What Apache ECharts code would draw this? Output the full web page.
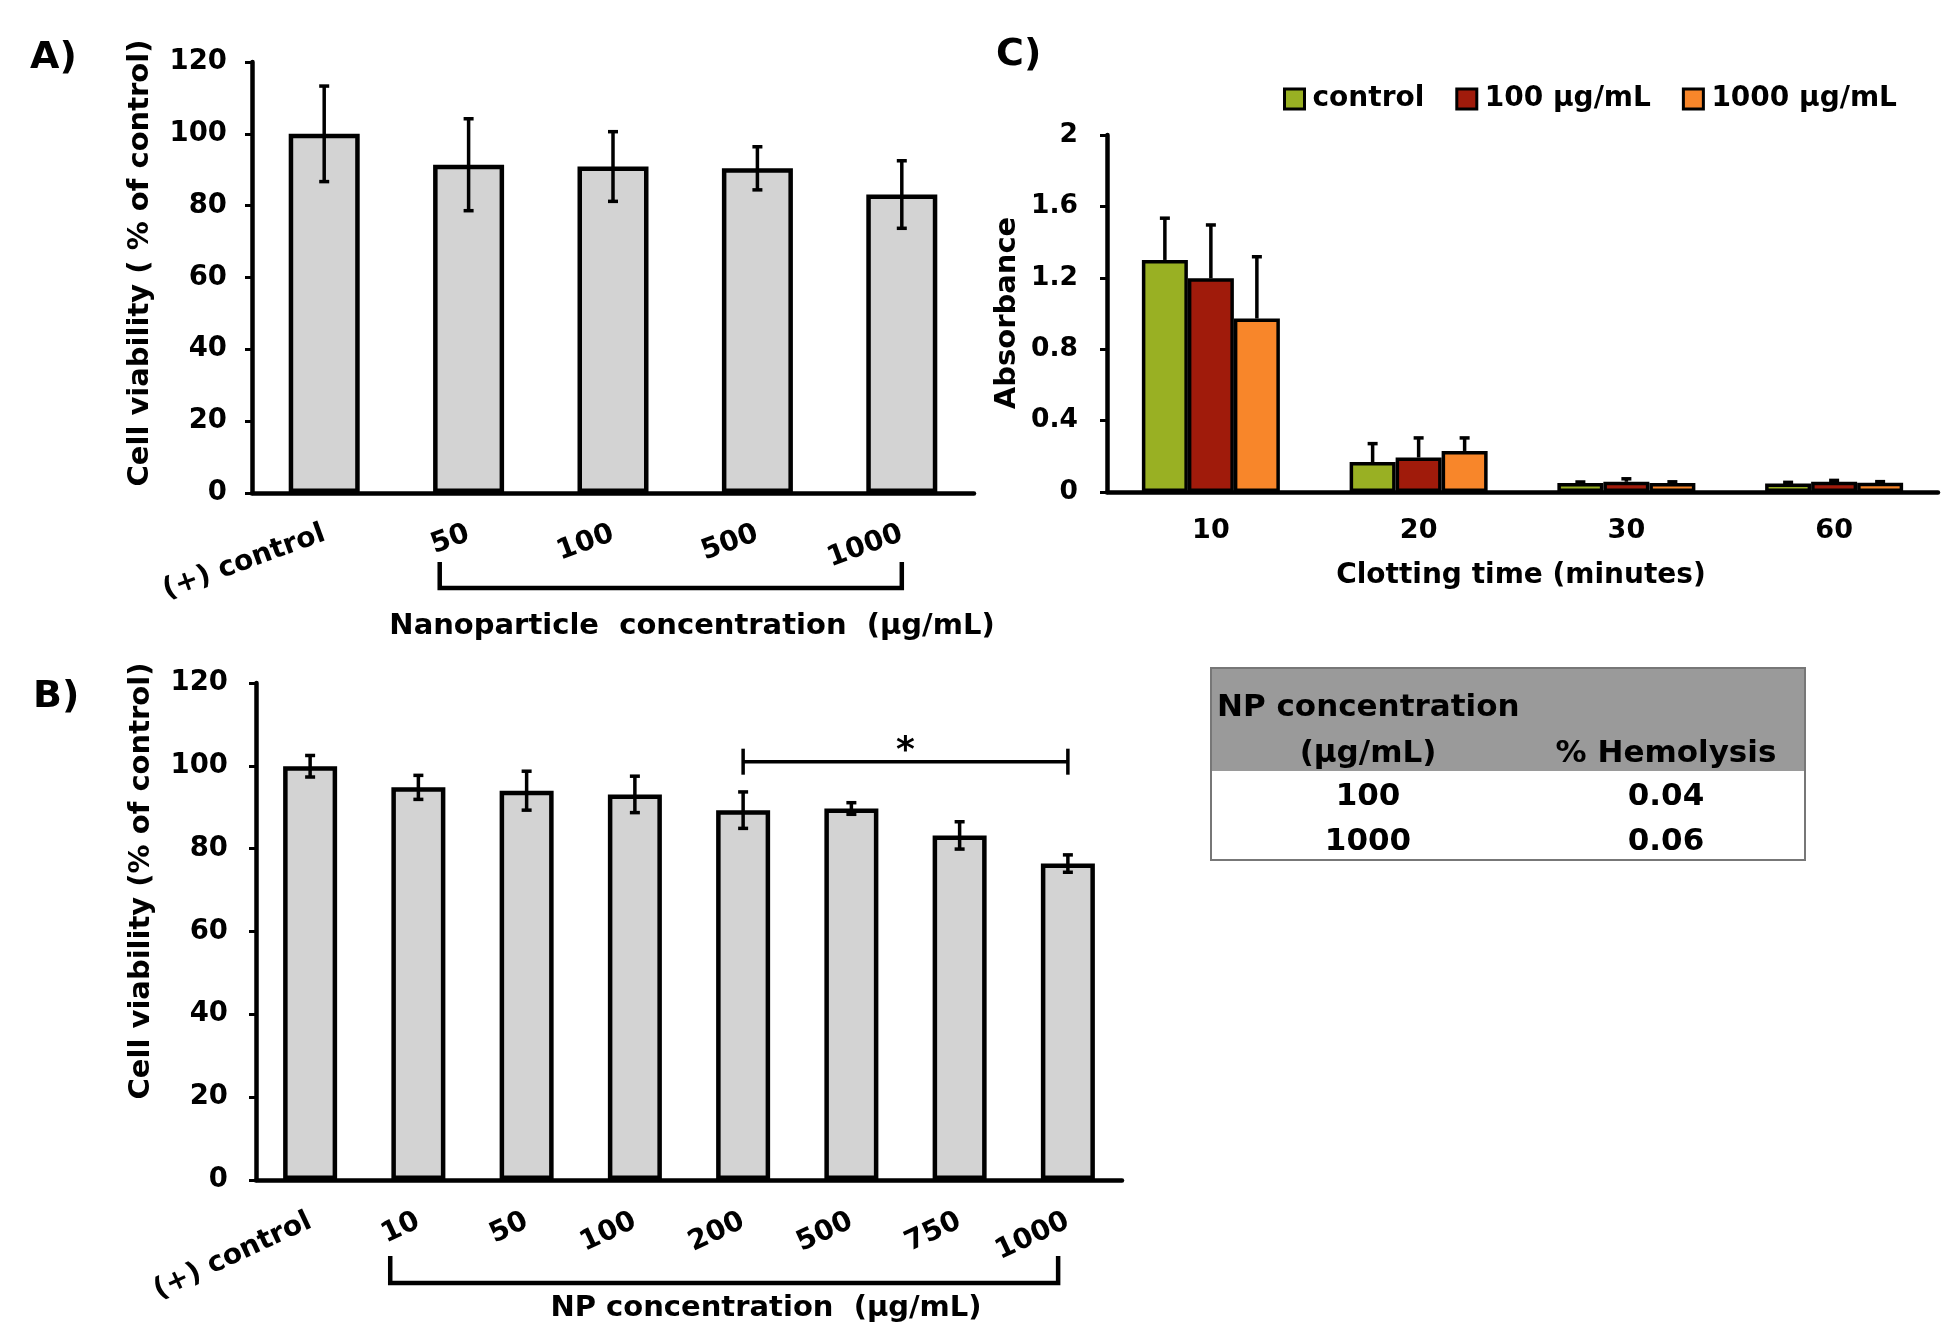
<!DOCTYPE html>
<html>
<head>
<meta charset="utf-8">
<script src="https://cdn.jsdelivr.net/npm/echarts/dist/echarts.min.js"></script>
<style>
html,body{margin:0;padding:0;background:#fff;}
#chart{width:1950px;height:1342px;}
</style>
</head>
<body>
<div id="chart"></div>
<script>
// ---------- DATA ----------
const catA = ['(+) control', '50', '100', '500', '1000'];
const valA = [100, 91.4, 90.9, 90.4, 83.1];
const errA = [13.3, 12.8, 9.7, 6.0, 9.4];

const catB = ['(+) control', '10', '50', '100', '200', '500', '750', '1000'];
const valB = [99.9, 94.8, 94.0, 93.1, 89.3, 89.7, 83.2, 76.4];
const errB = [2.6, 2.9, 4.7, 4.4, 4.4, 1.4, 3.3, 2.1];
const sigB = ['200', '1000'];
const sigLevelB = 101;

const catC = ['10', '20', '30', '60'];
const namesC = ['control', '100 μg/mL', '1000 μg/mL'];
const valCcontrol = [1.30, 0.168, 0.050, 0.048];
const valC100 = [1.197, 0.193, 0.057, 0.057];
const valC1000 = [0.972, 0.230, 0.051, 0.052];
const errCcontrol = [0.234, 0.103, 0.006, 0.006];
const errC100 = [0.299, 0.110, 0.017, 0.008];
const errC1000 = [0.346, 0.073, 0.006, 0.006];

const yTicksAB = [0, 120, 20];   // min, max, interval
const yTicksC = [0, 2, 0.4];

const hemoHeader = ['NP concentration', '(μg/mL)', '% Hemolysis'];
const hemoConc = ['100', '1000'];
const hemoPct = ['0.04', '0.06'];

// ---------- STYLE ----------
const FF = 'DejaVu Sans';
const BLACK = '#000';
const colorsC = ['#99b023', '#a01b0b', '#f8862a'];
const f = (s) => 'bold ' + s + 'px "' + FF + '"';

function catAxis(gi, data, extra) {
  return Object.assign({
    gridIndex: gi, type: 'category', data: data,
    axisLine: {lineStyle: {color: BLACK, width: 4.5}},
    axisTick: {alignWithLabel: true, length: 7, lineStyle: {color: BLACK, width: 3}},
    axisLabel: {interval: 0, fontSize: 28, fontWeight: 'bold', color: BLACK, fontFamily: FF},
    splitLine: {show: false}
  }, extra);
}
function valAxis(gi, t, labelSize, margin) {
  return {
    gridIndex: gi, type: 'value', min: t[0], max: t[1], interval: t[2],
    axisLine: {show: true, lineStyle: {color: BLACK, width: 4.5}},
    axisTick: {show: true, length: 7, lineStyle: {color: BLACK, width: 3}},
    axisLabel: {margin: margin, fontSize: labelSize, fontWeight: 'bold', color: BLACK, fontFamily: FF},
    splitLine: {show: false}
  };
}

function errRender(upperOnly, offset) {
  return function (params, api) {
    const i = api.value(0), v = api.value(1), e = api.value(2);
    const top = api.coord([i, v + e]);
    const bot = upperOnly ? api.coord([i, v]) : api.coord([i, v - e]);
    const x = top[0] + offset;
    const st = {stroke: BLACK, lineWidth: 3.5};
    const ch = [
      {type: 'line', shape: {x1: x, y1: top[1], x2: x, y2: bot[1]}, style: st},
      {type: 'line', shape: {x1: x - 5, y1: top[1], x2: x + 5, y2: top[1]}, style: st}
    ];
    if (!upperOnly) ch.push({type: 'line', shape: {x1: x - 5, y1: bot[1], x2: x + 5, y2: bot[1]}, style: st});
    return {type: 'group', children: ch};
  };
}
function errData(vals, errs) { return vals.map((v, i) => [i, v, errs[i]]); }

function bracketRender(shiftL, shiftR, drop, rise) {
  return function (params, api) {
    const p0 = api.coord([api.value(0), 0]);
    const p1 = api.coord([api.value(1), 0]);
    const band = api.size([1, 0])[0];
    const xL = p0[0] + shiftL * band, xR = p1[0] + shiftR * band;
    const y = p0[1] + drop;
    return {type: 'group', children: [
      {type: 'polyline', shape: {points: [[xL, y - rise], [xL, y], [xR, y], [xR, y - rise]]}, style: {fill: 'none', stroke: BLACK, lineWidth: 4.5}}
    ]};
  };
}

function sigRender(params, api) {
  const pL = api.coord([api.value(0), api.value(2)]);
  const pR = api.coord([api.value(1), api.value(2)]);
  const y = pL[1];
  const st = {stroke: BLACK, lineWidth: 3.5};
  return {type: 'group', children: [
    {type: 'line', shape: {x1: pL[0], y1: y, x2: pR[0], y2: y}, style: st},
    {type: 'line', shape: {x1: pL[0], y1: y - 13, x2: pL[0], y2: y + 13}, style: st},
    {type: 'line', shape: {x1: pR[0], y1: y - 13, x2: pR[0], y2: y + 13}, style: st},
    {type: 'text', style: {text: '*', x: (pL[0] + pR[0]) / 2, y: y + 8, font: f(36), fill: BLACK, align: 'center', verticalAlign: 'bottom', textAlign: 'center', textVerticalAlign: 'bottom'}}
  ]};
}

// ---------- TABLE (graphic) ----------
const T = {x: 1211, y: 668, w: 594, hHead: 103, hRow: 44.5, c1: 1368, c2: 1666};
const tableEls = [];
tableEls.push({type: 'rect', shape: {x: T.x, y: T.y, width: T.w, height: T.hHead}, style: {fill: '#9a9a9a'}});
tableEls.push({type: 'rect', shape: {x: T.x, y: T.y, width: T.w, height: T.hHead + T.hRow * hemoConc.length}, style: {fill: 'none', stroke: '#777', lineWidth: 2}});
tableEls.push({type: 'text', style: {text: hemoHeader[0], x: T.x + 6, y: T.y + 40, font: f(31), fill: BLACK, textAlign: 'left', textVerticalAlign: 'middle', align: 'left', verticalAlign: 'middle'}});
tableEls.push({type: 'text', style: {text: hemoHeader[1], x: T.c1, y: T.y + 86, font: f(31), fill: BLACK, textAlign: 'center', textVerticalAlign: 'middle', align: 'center', verticalAlign: 'middle'}});
tableEls.push({type: 'text', style: {text: hemoHeader[2], x: T.c2, y: T.y + 86, font: f(31), fill: BLACK, textAlign: 'center', textVerticalAlign: 'middle', align: 'center', verticalAlign: 'middle'}});
hemoConc.forEach((c, i) => {
  const yy = T.y + T.hHead + T.hRow * i + 26;
  tableEls.push({type: 'text', style: {text: c, x: T.c1, y: yy, font: f(31), fill: BLACK, textAlign: 'center', textVerticalAlign: 'middle', align: 'center', verticalAlign: 'middle'}});
  tableEls.push({type: 'text', style: {text: hemoPct[i], x: T.c2, y: yy, font: f(31), fill: BLACK, textAlign: 'center', textVerticalAlign: 'middle', align: 'center', verticalAlign: 'middle'}});
});

function txt(t, x, y, size, rot, align) {
  align = align || 'center';
  return {type: 'text', x: x, y: y, rotation: rot || 0,
    style: {text: t, x: 0, y: 0, font: f(size), fill: BLACK, textAlign: align, textVerticalAlign: 'middle', align: align, verticalAlign: 'middle'}};
}

const labels = [
  txt('A)', 30, 58, 38, 0, 'left'),
  txt('B)', 33, 697, 38, 0, 'left'),
  txt('C)', 996, 55, 38, 0, 'left'),
  txt('Cell viability ( % of control)', 140, 263, 29, Math.PI / 2),
  txt('Cell viability (% of control)', 141, 881, 29, Math.PI / 2),
  txt('Absorbance', 1007, 313, 29, Math.PI / 2),
  txt('Clotting time (minutes)', 1521, 576, 28),
  txt('Nanoparticle  concentration  (μg/mL)', 692, 626, 29),
  txt('NP concentration  (μg/mL)', 766, 1308, 29)
];

// ---------- CHART ----------
const chart = echarts.init(document.getElementById('chart'), null, {renderer: 'canvas'});
const option = {
  backgroundColor: '#fff',
  animation: false,
  textStyle: {fontFamily: FF},
  grid: [
    {left: 252, top: 62, width: 722, height: 431, containLabel: false, outerBoundsMode: 'none'},
    {left: 256, top: 683, width: 866, height: 497, containLabel: false, outerBoundsMode: 'none'},
    {left: 1107, top: 135, width: 831, height: 357, containLabel: false, outerBoundsMode: 'none'}
  ],
  legend: {
    data: namesC, left: 1278, top: 80, orient: 'horizontal',
    icon: 'rect', itemWidth: 20, itemHeight: 20, itemGap: 31,
    itemStyle: {borderColor: BLACK, borderWidth: 3},
    textStyle: {fontSize: 28, fontWeight: 'bold', color: BLACK, fontFamily: FF, padding: [0, 0, 0, 3]}
  },
  xAxis: [
    catAxis(0, catA, {axisLabel: {interval: 0, rotate: 20, margin: 40, fontSize: 28, fontWeight: 'bold', color: BLACK, fontFamily: FF}}),
    catAxis(1, catB, {axisLabel: {interval: 0, rotate: 25, margin: 40, fontSize: 28, fontWeight: 'bold', color: BLACK, fontFamily: FF}}),
    catAxis(2, catC, {
      axisTick: {alignWithLabel: false, length: 9, lineStyle: {color: BLACK, width: 3}},
      axisLabel: {interval: 0, margin: 25, fontSize: 27, fontWeight: 'bold', color: BLACK, fontFamily: FF}
    })
  ],
  yAxis: [
    valAxis(0, yTicksAB, 27.5, 25),
    valAxis(1, yTicksAB, 27.5, 28),
    valAxis(2, yTicksC, 26.5, 29)
  ],
  graphic: {elements: labels.concat(tableEls)},
  series: [
    {type: 'bar', xAxisIndex: 0, yAxisIndex: 0, data: valA, barWidth: 71,
      itemStyle: {color: '#d3d3d3', borderColor: BLACK, borderWidth: 4.5}},
    {type: 'custom', xAxisIndex: 0, yAxisIndex: 0, data: errData(valA, errA), renderItem: errRender(false, 0), z: 5, silent: true},
    {type: 'custom', xAxisIndex: 0, yAxisIndex: 0, data: [[1, 4]], renderItem: bracketRender(-0.2, 0, 95, 26), z: 5, silent: true},

    {type: 'bar', xAxisIndex: 1, yAxisIndex: 1, data: valB, barWidth: 54,
      itemStyle: {color: '#d3d3d3', borderColor: BLACK, borderWidth: 4.5}},
    {type: 'custom', xAxisIndex: 1, yAxisIndex: 1, data: errData(valB, errB), renderItem: errRender(false, 0), z: 5, silent: true},
    {type: 'custom', xAxisIndex: 1, yAxisIndex: 1, data: [[1, 7]], renderItem: bracketRender(-0.26, -0.09, 103, 27), z: 5, silent: true},
    {type: 'custom', xAxisIndex: 1, yAxisIndex: 1, data: [[catB.indexOf(sigB[0]), catB.indexOf(sigB[1]), sigLevelB]], renderItem: sigRender, z: 5, silent: true},

    {type: 'bar', name: namesC[0], xAxisIndex: 2, yAxisIndex: 2, data: valCcontrol, barWidth: 46, barGap: '0%',
      itemStyle: {color: colorsC[0], borderColor: BLACK, borderWidth: 3.5}},
    {type: 'bar', name: namesC[1], xAxisIndex: 2, yAxisIndex: 2, data: valC100, barWidth: 46, barGap: '0%',
      itemStyle: {color: colorsC[1], borderColor: BLACK, borderWidth: 3.5}},
    {type: 'bar', name: namesC[2], xAxisIndex: 2, yAxisIndex: 2, data: valC1000, barWidth: 46, barGap: '0%',
      itemStyle: {color: colorsC[2], borderColor: BLACK, borderWidth: 3.5}},
    {type: 'custom', xAxisIndex: 2, yAxisIndex: 2, data: errData(valCcontrol, errCcontrol), renderItem: errRender(true, -46), z: 5, silent: true},
    {type: 'custom', xAxisIndex: 2, yAxisIndex: 2, data: errData(valC100, errC100), renderItem: errRender(true, 0), z: 5, silent: true},
    {type: 'custom', xAxisIndex: 2, yAxisIndex: 2, data: errData(valC1000, errC1000), renderItem: errRender(true, 46), z: 5, silent: true}
  ]
};
chart.setOption(option);
</script>
</body>
</html>
